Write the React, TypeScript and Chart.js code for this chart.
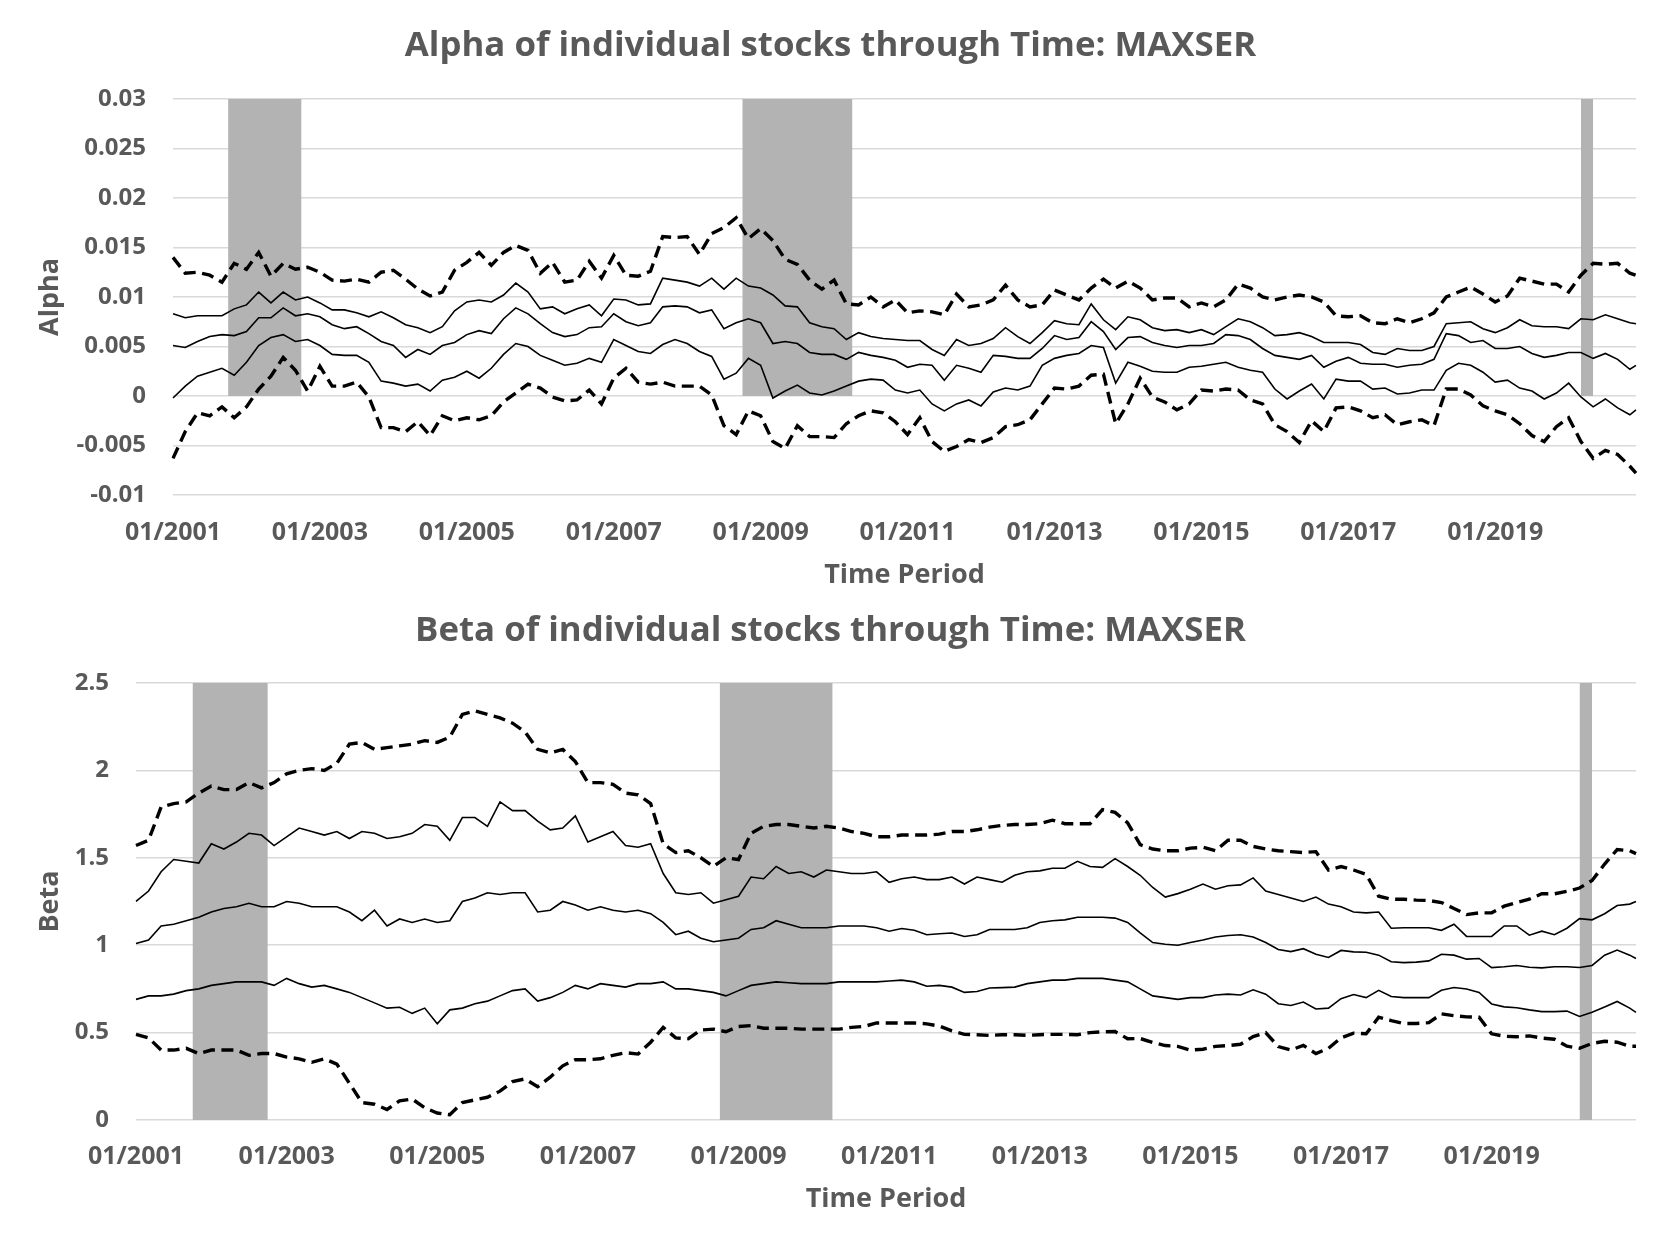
import React, { useEffect, useRef } from 'react';
import { Chart, registerables } from 'chart.js';

Chart.register(...registerables);

// ---------- categories ----------
const YEARS = [2001, 2002, 2003, 2004, 2005, 2006, 2007, 2008, 2009, 2010, 2011, 2012, 2013, 2014, 2015, 2016, 2017, 2018, 2019, 2020];
const MONTHS = ['01', '02', '03', '04', '05', '06', '07', '08', '09', '10', '11', '12'];
const MONTH_LABELS: string[] = YEARS.flatMap((y) => MONTHS.map((m) => `${m}/${y}`));
// values below are read every second month (01/2001, 03/2001, ...) plus the final month 12/2020
const SAMPLE_LABELS: string[] = Array.from({ length: 121 }, (_, k) => MONTH_LABELS[Math.min(2 * k, MONTH_LABELS.length - 1)]);
const LABEL_EVERY = 24; // a tick label every second January

// shaded periods (start month, end month)
const SHADED_PERIODS: [string, string][] = [
  ['10/2001', '10/2002'],
  ['10/2008', '04/2010'],
  ['03/2020', '05/2020'],
];

// ---------- Alpha series ----------
const alphaUpper = [
  0.0140, 0.0124, 0.0125, 0.0122, 0.0115, 0.0134, 0.0128, 0.0145, 0.0121, 0.0134, 0.0128, 0.0130, 0.0125, 0.0117, 0.0116, 0.0118, 0.0115, 0.0125, 0.0127, 0.0118, 0.0108, 0.0101, 0.0105,
  0.0127, 0.0135, 0.0145, 0.0132, 0.0145, 0.0152, 0.0147, 0.0124, 0.0135, 0.0115, 0.0117, 0.0136, 0.0119, 0.0142, 0.0122, 0.0121, 0.0126, 0.0161, 0.0160, 0.0161, 0.0143, 0.0164, 0.0170, 0.0180, 0.0159, 0.0169, 0.0157, 0.0138, 0.0133, 0.0117, 0.0108, 0.0117, 0.0093, 0.0092, 0.0100,
  0.0090, 0.0097, 0.0084, 0.0086, 0.0085, 0.0082, 0.0103, 0.0090, 0.0092, 0.0097, 0.0112, 0.0097, 0.0090, 0.0092, 0.0107, 0.0102, 0.0097, 0.0109, 0.0118, 0.0109, 0.0116, 0.0109, 0.0097, 0.0099, 0.0099, 0.0090, 0.0094, 0.0090, 0.0097, 0.0113, 0.0109, 0.0100, 0.0097, 0.0100,
  0.0102, 0.0100, 0.0095, 0.0081, 0.0080, 0.0081, 0.0074, 0.0073, 0.0078, 0.0074, 0.0078, 0.0084, 0.0100, 0.0105, 0.0110, 0.0103, 0.0095, 0.0101, 0.0119, 0.0116, 0.0113, 0.0113, 0.0105, 0.0122, 0.0134, 0.0133, 0.0134, 0.0124, 0.0122,
];
const alphaHigh = [
  0.0083, 0.0079, 0.0081, 0.0081, 0.0081, 0.0088, 0.0092, 0.0105, 0.0094, 0.0105, 0.0097, 0.0100, 0.0094, 0.0087, 0.0087, 0.0084, 0.0080, 0.0085, 0.0079, 0.0072, 0.0069, 0.0064, 0.0070,
  0.0086, 0.0095, 0.0097, 0.0095, 0.0102, 0.0114, 0.0105, 0.0088, 0.0090, 0.0083, 0.0088, 0.0092, 0.0081, 0.0098, 0.0097, 0.0092, 0.0093, 0.0119, 0.0117, 0.0115, 0.0111, 0.0119, 0.0108, 0.0119, 0.0111, 0.0109, 0.0102, 0.0091, 0.0090, 0.0074, 0.0070, 0.0068, 0.0057, 0.0064, 0.0060,
  0.0058, 0.0057, 0.0056, 0.0056, 0.0047, 0.0041, 0.0057, 0.0051, 0.0053, 0.0058, 0.0069, 0.0060, 0.0053, 0.0064, 0.0076, 0.0073, 0.0072, 0.0093, 0.0077, 0.0067, 0.0080, 0.0077, 0.0069, 0.0066, 0.0067, 0.0064, 0.0067, 0.0062, 0.0070, 0.0078, 0.0075, 0.0069, 0.0061, 0.0062,
  0.0064, 0.0060, 0.0054, 0.0054, 0.0054, 0.0052, 0.0044, 0.0042, 0.0048, 0.0046, 0.0046, 0.0050, 0.0073, 0.0074, 0.0075, 0.0068, 0.0064, 0.0069, 0.0077, 0.0071, 0.0070, 0.0070, 0.0068, 0.0078, 0.0077, 0.0082, 0.0078, 0.0074, 0.0073,
];
const alphaMid = [
  0.0051, 0.0049, 0.0055, 0.0060, 0.0062, 0.0061, 0.0065, 0.0079, 0.0079, 0.0089, 0.0081, 0.0083, 0.0080, 0.0072, 0.0068, 0.0070, 0.0063, 0.0055, 0.0051, 0.0039, 0.0047, 0.0042, 0.0051,
  0.0054, 0.0062, 0.0066, 0.0063, 0.0078, 0.0089, 0.0083, 0.0073, 0.0064, 0.0060, 0.0062, 0.0069, 0.0070, 0.0083, 0.0075, 0.0071, 0.0074, 0.0090, 0.0091, 0.0090, 0.0084, 0.0087, 0.0068, 0.0074, 0.0078, 0.0074, 0.0053, 0.0055, 0.0053, 0.0044, 0.0042, 0.0042, 0.0037, 0.0044, 0.0041,
  0.0039, 0.0036, 0.0029, 0.0032, 0.0031, 0.0016, 0.0031, 0.0028, 0.0024, 0.0041, 0.0040, 0.0038, 0.0038, 0.0048, 0.0061, 0.0057, 0.0059, 0.0075, 0.0065, 0.0047, 0.0059, 0.0060, 0.0054, 0.0051, 0.0049, 0.0051, 0.0051, 0.0053, 0.0062, 0.0061, 0.0057, 0.0048, 0.0041, 0.0039,
  0.0037, 0.0041, 0.0029, 0.0035, 0.0039, 0.0033, 0.0032, 0.0032, 0.0029, 0.0031, 0.0032, 0.0037, 0.0063, 0.0061, 0.0054, 0.0056, 0.0048, 0.0048, 0.0050, 0.0043, 0.0039, 0.0041, 0.0044, 0.0044, 0.0038, 0.0043, 0.0037, 0.0027, 0.0031,
];
const alphaLow = [
  -0.0002, 0.0010, 0.0020, 0.0024, 0.0028, 0.0021, 0.0034, 0.0051, 0.0059, 0.0062, 0.0055, 0.0057, 0.0051, 0.0042, 0.0041, 0.0041, 0.0034, 0.0015, 0.0013, 0.0010, 0.0012, 0.0005, 0.0016,
  0.0019, 0.0025, 0.0018, 0.0028, 0.0042, 0.0053, 0.0050, 0.0041, 0.0036, 0.0031, 0.0033, 0.0038, 0.0034, 0.0057, 0.0051, 0.0045, 0.0043, 0.0052, 0.0057, 0.0053, 0.0045, 0.0040, 0.0017, 0.0023, 0.0038, 0.0031, -0.0002, 0.0005, 0.0011, 0.0003, 0.0001, 0.0005, 0.0010, 0.0015, 0.0017,
  0.0016, 0.0006, 0.0003, 0.0006, -0.0008, -0.0015, -0.0008, -0.0004, -0.0010, 0.0004, 0.0008, 0.0006, 0.0010, 0.0031, 0.0038, 0.0041, 0.0043, 0.0051, 0.0049, 0.0013, 0.0034, 0.0030, 0.0025, 0.0024, 0.0024, 0.0029, 0.0030, 0.0032, 0.0034, 0.0029, 0.0026, 0.0024, 0.0007, -0.0003,
  0.0005, 0.0012, -0.0003, 0.0017, 0.0015, 0.0015, 0.0007, 0.0008, 0.0002, 0.0003, 0.0006, 0.0006, 0.0026, 0.0033, 0.0031, 0.0024, 0.0014, 0.0016, 0.0008, 0.0005, -0.0003, 0.0003, 0.0013, -0.0001, -0.0011, -0.0003, -0.0012, -0.0019, -0.0014,
];
const alphaLower = [
  -0.0063, -0.0036, -0.0017, -0.0020, -0.0011, -0.0022, -0.0011, 0.0007, 0.0020, 0.0039, 0.0026, 0.0005, 0.0030, 0.0010, 0.0010, 0.0014, -0.0001, -0.0032, -0.0032, -0.0036, -0.0026, -0.0040, -0.0020,
  -0.0025, -0.0022, -0.0024, -0.0020, -0.0006, 0.0003, 0.0012, 0.0008, -0.0001, -0.0005, -0.0004, 0.0006, -0.0008, 0.0018, 0.0028, 0.0014, 0.0012, 0.0014, 0.0010, 0.0010, 0.0010, 0.0001, -0.0030, -0.0039, -0.0015, -0.0020, -0.0046, -0.0053, -0.0030, -0.0041, -0.0041, -0.0042, -0.0028, -0.0020, -0.0015,
  -0.0017, -0.0026, -0.0039, -0.0022, -0.0046, -0.0056, -0.0051, -0.0044, -0.0047, -0.0042, -0.0031, -0.0029, -0.0024, -0.0008, 0.0008, 0.0007, 0.0010, 0.0021, 0.0022, -0.0028, -0.0008, 0.0018, -0.0001, -0.0006, -0.0014, -0.0008, 0.0006, 0.0005, 0.0007, 0.0006, -0.0004, -0.0008, -0.0029, -0.0036,
  -0.0047, -0.0025, -0.0036, -0.0012, -0.0011, -0.0015, -0.0022, -0.0019, -0.0029, -0.0026, -0.0024, -0.0030, 0.0007, 0.0007, 0.0001, -0.0010, -0.0015, -0.0019, -0.0028, -0.0040, -0.0046, -0.0031, -0.0022, -0.0046, -0.0063, -0.0055, -0.0059, -0.0071, -0.0078,
];

// ---------- Beta series ----------
const betaUpper = [
  1.57, 1.60, 1.79, 1.81, 1.82, 1.87, 1.91, 1.89, 1.89, 1.93, 1.90, 1.93, 1.98, 2.00, 2.01, 2.00, 2.04, 2.15, 2.16, 2.12, 2.13, 2.14, 2.15, 2.17, 2.16, 2.19,
  2.32, 2.34, 2.32, 2.30, 2.27, 2.22, 2.12, 2.10, 2.12, 2.05, 1.93, 1.93, 1.92, 1.87, 1.86, 1.81, 1.58, 1.53, 1.54, 1.50, 1.45, 1.50, 1.49, 1.64, 1.68, 1.69, 1.69, 1.68, 1.67, 1.68, 1.67, 1.65, 1.64,
  1.62, 1.62, 1.63, 1.63, 1.63, 1.635, 1.65, 1.65, 1.66, 1.675, 1.685, 1.69, 1.69, 1.695, 1.715, 1.695, 1.695, 1.695, 1.775, 1.76, 1.70, 1.575, 1.55, 1.54, 1.54, 1.555, 1.56, 1.54, 1.60, 1.60, 1.565, 1.55, 1.54, 1.535,
  1.53, 1.535, 1.43, 1.45, 1.43, 1.405, 1.28, 1.263, 1.263, 1.258, 1.256, 1.244, 1.21, 1.175, 1.185, 1.185, 1.223, 1.244, 1.263, 1.294, 1.294, 1.308, 1.327, 1.37, 1.464, 1.547, 1.54, 1.524,
];
const betaHigh = [
  1.25, 1.31, 1.42, 1.49, 1.48, 1.47, 1.58, 1.55, 1.59, 1.64, 1.63, 1.57, 1.62, 1.67, 1.65, 1.63, 1.65, 1.61, 1.65, 1.64, 1.61, 1.62, 1.64, 1.69, 1.68, 1.60,
  1.73, 1.73, 1.68, 1.82, 1.77, 1.77, 1.71, 1.66, 1.67, 1.74, 1.59, 1.62, 1.65, 1.57, 1.56, 1.58, 1.41, 1.30, 1.29, 1.30, 1.24, 1.26, 1.28, 1.39, 1.38, 1.45, 1.41, 1.42, 1.39, 1.43, 1.42, 1.41, 1.41,
  1.42, 1.36, 1.38, 1.39, 1.375, 1.375, 1.39, 1.35, 1.39, 1.375, 1.36, 1.40, 1.42, 1.425, 1.44, 1.44, 1.48, 1.45, 1.445, 1.495, 1.45, 1.40, 1.33, 1.275, 1.295, 1.32, 1.35, 1.32, 1.34, 1.345, 1.385, 1.31, 1.29, 1.27,
  1.25, 1.275, 1.235, 1.22, 1.19, 1.185, 1.19, 1.097, 1.10, 1.10, 1.10, 1.085, 1.12, 1.05, 1.05, 1.05, 1.11, 1.11, 1.057, 1.08, 1.06, 1.097, 1.152, 1.145, 1.18, 1.227, 1.235, 1.25,
];
const betaMid = [
  1.01, 1.03, 1.11, 1.12, 1.14, 1.16, 1.19, 1.21, 1.22, 1.24, 1.22, 1.22, 1.25, 1.24, 1.22, 1.22, 1.22, 1.19, 1.14, 1.20, 1.11, 1.15, 1.13, 1.15, 1.13, 1.14,
  1.25, 1.27, 1.30, 1.29, 1.30, 1.30, 1.19, 1.20, 1.25, 1.23, 1.20, 1.22, 1.20, 1.19, 1.20, 1.18, 1.13, 1.06, 1.08, 1.04, 1.02, 1.03, 1.04, 1.09, 1.10, 1.14, 1.12, 1.10, 1.10, 1.10, 1.11, 1.11, 1.11,
  1.10, 1.08, 1.095, 1.085, 1.06, 1.065, 1.07, 1.05, 1.06, 1.09, 1.09, 1.09, 1.10, 1.13, 1.14, 1.145, 1.16, 1.16, 1.16, 1.155, 1.13, 1.07, 1.015, 1.005, 1.00, 1.015, 1.03, 1.047, 1.055, 1.06, 1.047, 1.015, 0.975, 0.963,
  0.98, 0.948, 0.93, 0.97, 0.962, 0.96, 0.943, 0.905, 0.90, 0.903, 0.91, 0.948, 0.943, 0.92, 0.924, 0.872, 0.877, 0.884, 0.874, 0.87, 0.877, 0.877, 0.872, 0.884, 0.943, 0.972, 0.943, 0.924,
];
const betaLow = [
  0.69, 0.71, 0.71, 0.72, 0.74, 0.75, 0.77, 0.78, 0.79, 0.79, 0.79, 0.77, 0.81, 0.78, 0.76, 0.77, 0.75, 0.73, 0.70, 0.67, 0.64, 0.645, 0.61, 0.64, 0.55, 0.63,
  0.64, 0.665, 0.68, 0.71, 0.74, 0.75, 0.68, 0.70, 0.73, 0.77, 0.75, 0.78, 0.77, 0.76, 0.78, 0.78, 0.79, 0.75, 0.75, 0.74, 0.73, 0.71, 0.74, 0.77, 0.78, 0.79, 0.785, 0.78, 0.78, 0.78, 0.79, 0.79, 0.79,
  0.79, 0.795, 0.80, 0.79, 0.765, 0.77, 0.76, 0.73, 0.735, 0.755, 0.757, 0.76, 0.78, 0.79, 0.80, 0.80, 0.81, 0.81, 0.81, 0.80, 0.79, 0.75, 0.71, 0.70, 0.69, 0.70, 0.70, 0.715, 0.72, 0.715, 0.745, 0.72, 0.665, 0.655,
  0.675, 0.635, 0.64, 0.694, 0.718, 0.70, 0.742, 0.706, 0.70, 0.70, 0.70, 0.742, 0.758, 0.749, 0.73, 0.664, 0.647, 0.642, 0.63, 0.62, 0.62, 0.623, 0.592, 0.616, 0.647, 0.678, 0.64, 0.616,
];
const betaLower = [
  0.49, 0.47, 0.40, 0.40, 0.41, 0.38, 0.40, 0.40, 0.40, 0.37, 0.38, 0.38, 0.36, 0.35, 0.33, 0.35, 0.32, 0.21, 0.10, 0.09, 0.06, 0.11, 0.12, 0.07, 0.04, 0.03,
  0.10, 0.115, 0.13, 0.165, 0.22, 0.235, 0.19, 0.245, 0.31, 0.345, 0.345, 0.35, 0.37, 0.385, 0.377, 0.445, 0.53, 0.47, 0.465, 0.515, 0.52, 0.505, 0.535, 0.54, 0.525, 0.525, 0.525, 0.52, 0.52, 0.52, 0.52, 0.53, 0.535,
  0.555, 0.555, 0.555, 0.555, 0.55, 0.537, 0.51, 0.49, 0.488, 0.484, 0.488, 0.488, 0.484, 0.488, 0.49, 0.49, 0.488, 0.50, 0.504, 0.506, 0.465, 0.466, 0.444, 0.426, 0.421, 0.40, 0.405, 0.421, 0.426, 0.433, 0.477, 0.50, 0.42, 0.40,
  0.427, 0.38, 0.41, 0.47, 0.497, 0.493, 0.588, 0.569, 0.552, 0.552, 0.557, 0.607, 0.597, 0.59, 0.588, 0.493, 0.479, 0.476, 0.481, 0.469, 0.462, 0.422, 0.41, 0.438, 0.45, 0.445, 0.422, 0.422,
];

// ---------- tick labels ----------
const ALPHA_TICKS = ['-0.01', '-0.005', '0', '0.005', '0.01', '0.015', '0.02', '0.025', '0.03'];
const BETA_TICKS = ['0', '0.5', '1', '1.5', '2', '2.5'];

// ---------- styling ----------
const FONT = "'Open Sans', 'DejaVu Sans', sans-serif";
const TEXT = '#595959';
const GRID = '#d9d9d9';
const SHADE = '#b3b3b3';
const TITLE_SIZE = 34.8;

const toPoints = (vals: number[]) =>
  vals.slice(0, SAMPLE_LABELS.length).map((y, k) => ({ x: SAMPLE_LABELS[k], y }));

type Panel = {
  title: string;
  yTitle: string;
  series: number[][];
  yMin: number;
  yMax: number;
  yStep: number;
  yTicks: string[];
  yAxisWidth: number;
  xAxisHeight: number;
  titleTop: number;
  titleBottom: number;
  xTickPad: number;
  xTitleBottom: number;
};

function buildConfig(p: Panel): any {
  const dashed = [true, false, false, false, true];
  const lineSets = p.series.map((vals, i) => ({
    type: 'line',
    data: toPoints(vals),
    borderColor: '#000000',
    borderWidth: dashed[i] ? 3.4 : 1.6,
    borderDash: dashed[i] ? [12, 6.5] : [],
    borderCapStyle: 'butt',
    pointRadius: 0,
    tension: 0,
    fill: false,
    order: 1,
  }));
  const shadeSets = SHADED_PERIODS.map(([a, b]) => ({
    type: 'line',
    data: [
      { x: a, y: p.yMax },
      { x: b, y: p.yMax },
    ],
    borderWidth: 0,
    borderColor: 'rgba(0,0,0,0)',
    backgroundColor: SHADE,
    pointRadius: 0,
    fill: 'origin',
    order: 5,
  }));
  return {
    type: 'line',
    data: { labels: MONTH_LABELS, datasets: [...lineSets, ...shadeSets] },
    options: {
      animation: false,
      responsive: false,
      devicePixelRatio: 1,
      layout: { padding: { left: 25, right: 25, top: 0, bottom: 0 } },
      plugins: {
        legend: { display: false },
        tooltip: { enabled: false },
        title: {
          display: true,
          text: p.title,
          color: TEXT,
          font: { family: FONT, size: TITLE_SIZE, weight: 'bold', lineHeight: 1.2 },
          padding: { top: p.titleTop, bottom: p.titleBottom },
        },
      },
      scales: {
        x: {
          type: 'category',
          offset: false,
          grid: { display: false, drawTicks: false },
          border: { display: false },
          ticks: {
            autoSkip: false,
            maxRotation: 0,
            minRotation: 0,
            padding: p.xTickPad,
            color: TEXT,
            font: { family: FONT, size: 25, weight: 'bold', lineHeight: 1.2 },
            callback: (_v: any, i: number) => (i % LABEL_EVERY === 0 ? MONTH_LABELS[i] : ''),
          },
          title: {
            display: true,
            text: 'Time Period',
            color: TEXT,
            font: { family: FONT, size: 27, weight: 'bold', lineHeight: 1.2 },
            padding: { top: 0, bottom: p.xTitleBottom },
          },
          afterFit: (s: any) => {
            s.height = p.xAxisHeight;
          },
        },
        y: {
          type: 'linear',
          min: p.yMin,
          max: p.yMax,
          ticks: {
            stepSize: p.yStep,
            padding: 27,
            color: TEXT,
            font: { family: FONT, size: 24, weight: 'bold', lineHeight: 1.2 },
            callback: (_v: any, i: number) => p.yTicks[i] ?? '',
          },
          grid: { color: GRID, lineWidth: 1.5, drawTicks: false },
          border: { display: false },
          title: {
            display: true,
            text: p.yTitle,
            color: TEXT,
            font: { family: FONT, size: 27, weight: 'bold', lineHeight: 1.2 },
            padding: { top: 9, bottom: 0 },
          },
          afterFit: (s: any) => {
            s.width = p.yAxisWidth;
          },
        },
      },
    },
  };
}

const ALPHA_PANEL: Panel = {
  title: 'Alpha of individual stocks through Time: MAXSER',
  yTitle: 'Alpha',
  series: [alphaUpper, alphaHigh, alphaMid, alphaLow, alphaLower],
  yMin: -0.01,
  yMax: 0.03,
  yStep: 0.005,
  yTicks: ALPHA_TICKS,
  yAxisWidth: 148,
  xAxisHeight: 105,
  titleTop: 25,
  titleBottom: 32.2,
  xTickPad: 23,
  xTitleBottom: 8,
};

const BETA_PANEL: Panel = {
  title: 'Beta of individual stocks through Time: MAXSER',
  yTitle: 'Beta',
  series: [betaUpper, betaHigh, betaMid, betaLow, betaLower],
  yMin: 0,
  yMax: 2.5,
  yStep: 0.5,
  yTicks: BETA_TICKS,
  yAxisWidth: 111,
  xAxisHeight: 126,
  titleTop: 10,
  titleBottom: 31.2,
  xTickPad: 22,
  xTitleBottom: 30,
};

function ChartCanvas({ panel, top, height }: { panel: Panel; top: number; height: number }) {
  const ref = useRef<HTMLCanvasElement | null>(null);
  useEffect(() => {
    if (!ref.current) return;
    const chart = new Chart(ref.current, buildConfig(panel));
    return () => chart.destroy();
  }, [panel]);
  return (
    <canvas
      ref={ref}
      width={1661}
      height={height}
      style={{ position: 'absolute', left: 0, top, width: 1661, height }}
    />
  );
}

export default function App() {
  return (
    <div style={{ position: 'absolute', left: 0, top: 0, width: 1661, height: 1246, background: '#ffffff' }}>
      <ChartCanvas panel={ALPHA_PANEL} top={0} height={600} />
      <ChartCanvas panel={BETA_PANEL} top={600} height={646} />
    </div>
  );
}
